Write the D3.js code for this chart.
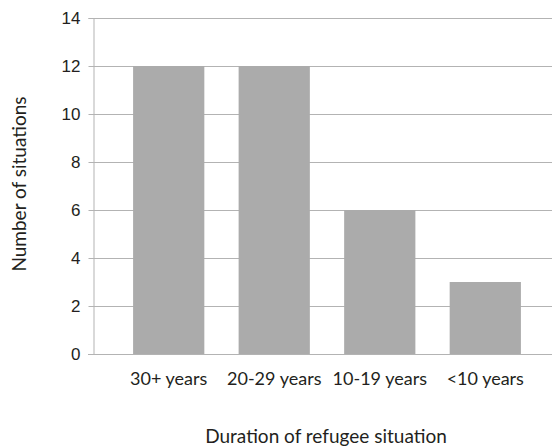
<!DOCTYPE html>
<html>
<head>
<meta charset="utf-8">
<script src="https://cdn.jsdelivr.net/npm/d3@7"></script>
<style>
  body { margin: 0; background: #fff; }
  svg { display: block; font-family: Lato, "Noto Sans", sans-serif; }
</style>
</head>
<body>
<div id="chart"></div>
<script>
// data
const categories = ["30+ years", "20-29 years", "10-19 years", "<10 years"];
const situations = [12, 12, 6, 3];
const yTicks = [0, 2, 4, 6, 8, 10, 12, 14];

const width = 552, height = 448;
const plot = { left: 93, right: 561, top: 18, bottom: 354 };

const svg = d3.select("#chart").append("svg")
    .attr("width", width)
    .attr("height", height);

const x = d3.scaleBand()
    .domain(categories)
    .range([plot.left, plot.right])
    .paddingInner(0.325)
    .paddingOuter(0.38);

const y = d3.scaleLinear()
    .domain([0, 14])
    .range([plot.bottom, plot.top]);

// gridlines
svg.append("g")
    .selectAll("line")
    .data(yTicks)
    .join("line")
    .attr("x1", plot.left)
    .attr("x2", width)
    .attr("y1", d => y(d) + 0.5)
    .attr("y2", d => y(d) + 0.5)
    .attr("stroke", "#b3b3b3")
    .attr("stroke-width", 1);

// bars
svg.append("g")
    .selectAll("rect")
    .data(categories)
    .join("rect")
    .attr("x", d => x(d))
    .attr("y", (d, i) => y(situations[i]))
    .attr("width", x.bandwidth())
    .attr("height", (d, i) => y(0) - y(situations[i]))
    .attr("fill", "#ababab");

// y axis
const yAxis = svg.append("g")
    .attr("transform", `translate(${plot.left + 0.5},0)`)
    .call(d3.axisLeft(y).tickValues(yTicks).tickSize(5).tickPadding(8));
yAxis.select(".domain").attr("stroke", "#b3b3b3");
yAxis.selectAll(".tick line").attr("stroke", "#b3b3b3");
yAxis.selectAll(".tick text")
    .attr("fill", "#231f20")
    .style("font-size", "17px");

// x axis baseline
svg.append("line")
    .attr("x1", plot.left - 5)
    .attr("x2", width)
    .attr("y1", y(0) + 0.5)
    .attr("y2", y(0) + 0.5)
    .attr("stroke", "#b3b3b3");

// x labels
svg.append("g")
    .selectAll("text")
    .data(categories)
    .join("text")
    .attr("x", d => x(d) + x.bandwidth() / 2)
    .attr("y", 385)
    .attr("text-anchor", "middle")
    .attr("fill", "#231f20")
    .style("font-size", "18px")
    .text(d => d);

// axis titles
svg.append("text")
    .attr("x", 326)
    .attr("y", 443)
    .attr("text-anchor", "middle")
    .attr("fill", "#231f20")
    .style("font-size", "19px")
    .text("Duration of refugee situation");

svg.append("text")
    .attr("transform", "translate(26,184) rotate(-90)")
    .attr("text-anchor", "middle")
    .attr("fill", "#231f20")
    .style("font-size", "19px")
    .text("Number of situations");
</script>
</body>
</html>
